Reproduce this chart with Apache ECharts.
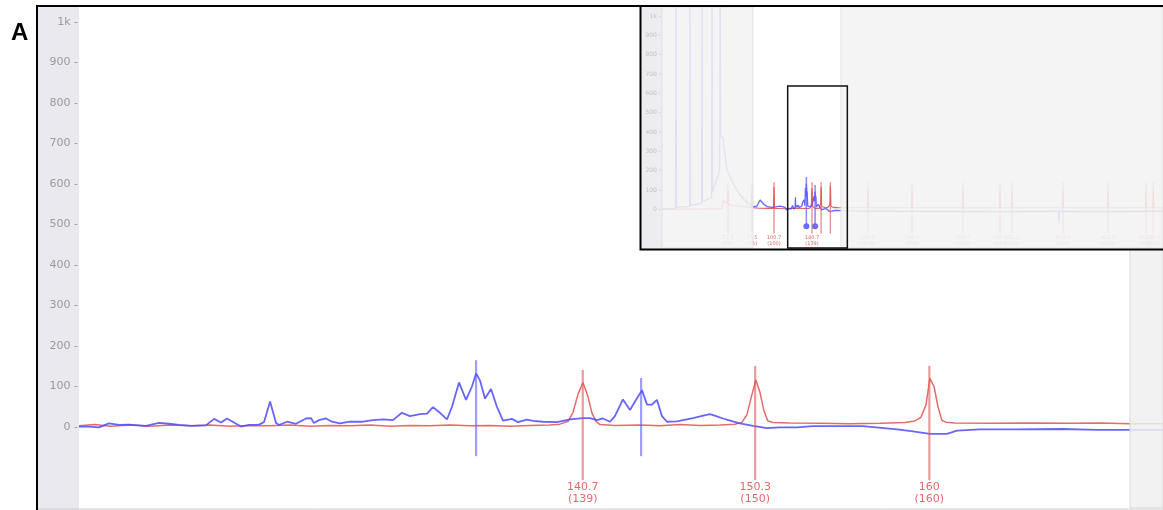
<!DOCTYPE html>
<html><head><meta charset="utf-8">
<script src="https://cdn.jsdelivr.net/npm/echarts/dist/echarts.min.js"></script>
<style>html,body{margin:0;padding:0;background:#fff}#c{width:1163px;height:510px}</style>
</head><body><div id="c"></div>
<script>
// ---------- main view data (bp, RFU) ----------
const mainRange = [112.65, 173.01];
const analysisEnd = 171.17;
const yTickValues = [0, 100, 200, 300, 400, 500, 600, 700, 800, 900, 1000];
const yTickLabels = ['0', '100', '200', '300', '400', '500', '600', '700', '800', '900', '1k'];

const blueBp = [112.65,113.21,113.76,114.32,114.88,115.43,116.38,117.10,117.66,118.22,118.94,119.72,120.17,120.56,120.89,121.28,121.67,122.12,122.67,122.95,123.29,123.62,123.79,124.23,124.73,125.29,125.57,125.73,126.01,126.40,126.74,127.18,127.74,128.46,129.02,129.58,130.13,130.63,131.08,131.64,132.03,132.36,132.75,133.14,133.42,133.81,134.20,134.53,134.76,134.98,135.26,135.59,135.92,136.26,136.76,137.09,137.59,137.93,138.49,139.27,139.99,140.71,141.10,141.49,141.83,142.22,142.49,142.94,143.33,143.61,144.00,144.28,144.55,144.83,145.11,145.39,145.95,146.28,146.84,147.23,147.78,148.17,148.51,148.90,149.45,150.18,150.96,151.68,152.63,153.52,155.02,156.30,158.20,159.09,160.03,160.98,161.54,162.82,164.65,167.44,169.33,171.17,173.01];
const blueVal = [1,1,-1,9,5,6,3,10,8,5,3,4,20,11,21,11,1,5,6,12,63,10,5,13,8,21,22,10,17,21,13,9,13,13,17,19,17,35,27,32,33,49,35,19,50,110,67,100,132,115,70,94,50,16,20,12,18,15,13,12,19,22,22,17,21,13,27,68,42,63,91,55,55,67,27,13,14,17,22,26,32,26,21,16,9,3,-3,-1,-1,2,2,2,-6,-11,-17,-17,-9,-6,-6,-5,-7,-7,-7];

const redBp = [112.65,113.54,114.38,115.49,116.60,117.72,118.83,119.94,121.06,122.17,123.28,124.40,125.51,126.63,127.74,128.85,129.97,131.08,132.19,133.31,134.42,135.53,136.65,137.76,138.87,139.43,139.88,140.15,140.43,140.71,140.99,141.21,141.44,141.66,142.49,143.89,145.00,146.11,147.23,148.34,149.18,149.57,149.84,150.12,150.34,150.57,150.79,151.01,151.29,152.24,153.91,155.58,157.25,158.64,159.20,159.53,159.81,160.03,160.26,160.48,160.70,160.93,161.43,163.37,165.60,167.83,169.50,171.17,173.01];
const redVal = [3,6,2,5,2,5,3,5,2,4,3,5,2,4,3,5,2,4,3,5,3,4,2,4,5,7,14,35,80,110,75,35,14,6,4,5,3,6,4,5,7,12,30,80,116,85,40,15,11,10,9,8,9,11,15,24,54,120,100,50,16,12,10,9,10,9,10,8,8];

const redMarkerBp = [140.7, 150.3, 160];
const redMarkerTop = [141, 151, 151];
const redMarkerBottom = [-131, -131, -131];
const redMarkerText = ['140.7', '150.3', '160'];
const redMarkerSize = ['(139)', '(150)', '(160)'];
const blueMarkerBp = [134.76, 143.95];
const blueMarkerTop = [165, 121];
const blueMarkerBottom = [-72, -72];

// ---------- overview (inset) data ----------
const insetRange = [-17.2, 510.2];
const insetWhiteStart = 78.6;
const insetBox = [115.1, 177.9, 638];
const ovBlueLeftBp = [-17.2,-11,-3,-2.5,-2,12,12.3,12.8,24.5,24.9,25.4,35,35.5,36,43.5,44,44.5,47,51.2,57.6,65,72.3,78.6,82.8,86,88.1,90.2,93.4,99.7,107,112.3];
const ovBlueLeftVal = [2,4,5,1500,10,15,1500,20,30,1500,40,60,1500,90,200,1500,380,370,203,135,73,37,14,17,48,57,25,14,10,17,10];
const ovBlueRightBp = [180.7,233.3,338.6,396.5,400.2,400.7,401.2,443.9,510.2];
const ovBlueRightVal = [-8,-10,-12,-10,-10,-70,-10,-12,-10];
const ovRedLeftBp = [-17.2,10,40,46,47.5,51.5,52.3,53,58,65,72,76.8,77.5,78.2,85,95,100.1,100.7,101.3,107,112.3];
const ovRedLeftVal = [0,1,2,5,45,30,100,25,20,16,12,10,100,9,6,5,5,115,5,4,3];
const ovRedRightBp = [180,199.0,199.6,200.2,245.4,246.0,246.6,299.0,299.6,300.2,338.0,338.6,339.2,350.6,351.2,351.8,404.3,404.9,405.5,451.7,452.3,452.9,491.7,492.3,492.9,499.4,500.0,500.6,510.2];
const ovRedRightVal = [8,8,100,8,8,100,8,8,100,8,8,100,8,8,100,8,8,100,8,8,100,8,8,100,8,8,100,8,8];

const insetRedBp = [52.3, 77.5, 100.7, 140.7, 150.3, 160, 199.6, 246.0, 299.6, 338.6, 351.2, 404.9, 452.3, 492.3, 500.0];
const insetRedText = ['52.3','77.5','100.7','140.7','','','199.6','246.0','299.6','338.6','351.2','404.9','452.3','492.3','500.0'];
const insetRedSize = ['(50)','(75)','(100)','(139)','','','(200)','(250)','(300)','(340)','(350)','(400)','(450)','(490)','(500)'];
const insetRedTop = 140, insetRedBottom = -125;
const insetBlueBp = [134.76, 143.95];
const insetBlueTop = [167, 126];
const insetBlueBottom = -88;

// ---------- build ----------
const zip = (a, b) => a.map((v, i) => [v, b[i]]);
const mainBlue = zip(blueBp, blueVal);
const mainRed = zip(redBp, redVal);
const ovBlue = zip(ovBlueLeftBp, ovBlueLeftVal).concat(mainBlue, zip(ovBlueRightBp, ovBlueRightVal));
const ovRed = zip(ovRedLeftBp, ovRedLeftVal).concat(mainRed, zip(ovRedRightBp, ovRedRightVal));

const tickFmt = v => { const i = yTickValues.indexOf(v); return i < 0 ? '' : yTickLabels[i] + ' -'; };

function markerSeries(name, gi, data, color, width, texts, sizes, fontSize, lh, dot, z) {
  return {
    type: 'custom', name, xAxisIndex: gi, yAxisIndex: gi, z, clip: false, silent: true,
    data,
    renderItem: (params, api) => {
      const i = params.dataIndex;
      const x = api.value(0);
      const p1 = api.coord([x, api.value(1)]);
      const p2 = api.coord([x, api.value(2)]);
      const ch = [{ type: 'line', shape: { x1: p1[0], y1: p1[1], x2: p2[0], y2: p2[1] },
        style: { stroke: color, lineWidth: width } }];
      if (texts && texts[i]) {
        ch.push({ type: 'text', x: p2[0], y: p2[1] + 1,
          style: { text: texts[i] + '\n' + sizes[i], fill: '#e06a6a', fontSize, fontFamily: 'DejaVu Sans',
            lineHeight: lh, align: 'center', verticalAlign: 'top' } });
      }
      if (dot) ch.push({ type: 'circle', shape: { cx: p2[0], cy: p2[1], r: 3 }, style: { fill: '#6b6bff' } });
      return { type: 'group', children: ch };
    }
  };
}

const chart = echarts.init(document.getElementById('c'), null, { renderer: 'canvas' });
chart.setOption({
  animation: false,
  backgroundColor: '#fff',
  title: { text: 'A', left: 11, top: 21, padding: 0,
    textStyle: { fontSize: 24, fontWeight: 'bold', fontFamily: 'Liberation Sans', color: '#000' } },
  grid: [
    { left: 79, top: 7, right: 0, height: 501, outerBoundsMode: 'none', containLabel: false },
    { left: 662, top: 7, right: 0, height: 241, outerBoundsMode: 'none', containLabel: false }
  ],
  xAxis: [
    { type: 'value', gridIndex: 0, min: mainRange[0], max: mainRange[1], show: false },
    { type: 'value', gridIndex: 1, min: insetRange[0], max: insetRange[1], show: false }
  ],
  yAxis: [
    { type: 'value', gridIndex: 0, min: -200, max: 1037, interval: 100,
      axisLine: { show: false }, axisTick: { show: false }, splitLine: { show: false },
      axisLabel: { formatter: tickFmt, margin: 1, fontSize: 11, color: '#9a9a9a', fontFamily: 'DejaVu Sans' } },
    { type: 'value', gridIndex: 1, min: -200, max: 1046.6, interval: 100, z: 27,
      axisLine: { show: false }, axisTick: { show: false }, splitLine: { show: false },
      axisLabel: { formatter: tickFmt, margin: 1, fontSize: 6, color: '#c2c2c2', fontFamily: 'DejaVu Sans' } }
  ],
  graphic: { elements: [
    { type: 'rect', z: 0, shape: { x: 38, y: 7, width: 41, height: 510 }, style: { fill: '#e9e9ef' } },
    { type: 'line', z: 1, shape: { x1: 38, y1: 509, x2: 1163, y2: 509 }, style: { stroke: '#cfcfcf', lineWidth: 1 } },
    { type: 'rect', z: 100, shape: { x: 37, y: 6, width: 1140, height: 530 }, style: { fill: 'none', stroke: '#000', lineWidth: 2 } },
    { type: 'rect', z: 20, shape: { x: 640, y: 6, width: 530, height: 244 }, style: { fill: '#fff' } },
    { type: 'rect', z: 21, shape: { x: 641, y: 7, width: 21, height: 242 }, style: { fill: '#ededf1' } },
    { type: 'rect', z: 101, shape: { x: 640.5, y: 6, width: 530, height: 243.5 }, style: { fill: 'none', stroke: '#000', lineWidth: 2 } }
  ] },
  series: [
    { type: 'line', name: 'red', xAxisIndex: 0, yAxisIndex: 0, data: mainRed, z: 2, symbol: 'none', silent: true,
      lineStyle: { color: 'rgba(222,70,70,0.8)', width: 1.5 } },
    { type: 'line', name: 'blue', xAxisIndex: 0, yAxisIndex: 0, data: mainBlue, z: 3, symbol: 'none', silent: true,
      lineStyle: { color: 'rgba(75,75,255,0.85)', width: 1.8 } },
    markerSeries('redMarkers', 0, redMarkerBp.map((b, i) => [b, redMarkerTop[i], redMarkerBottom[i]]),
      'rgba(225,85,85,0.6)', 2.2, redMarkerText, redMarkerSize, 11, 12, false, 4),
    markerSeries('blueMarkers', 0, blueMarkerBp.map((b, i) => [b, blueMarkerTop[i], blueMarkerBottom[i]]),
      'rgba(95,95,255,0.6)', 2.2, null, null, 11, 12, false, 4),
    { type: 'line', name: 'mainShade', xAxisIndex: 0, yAxisIndex: 0, data: [], z: 5, silent: true,
      markArea: { z: 5, silent: true, itemStyle: { color: 'rgba(240,240,240,0.85)', borderColor: '#d9d9d9', borderWidth: 1 },
        data: [[{ xAxis: analysisEnd }, { xAxis: mainRange[1] }]] } },
    // inset
    { type: 'line', name: 'ovRed', xAxisIndex: 1, yAxisIndex: 1, data: ovRed, z: 22, symbol: 'none', silent: true,
      lineStyle: { color: 'rgba(222,70,70,0.85)', width: 1.1 } },
    { type: 'line', name: 'ovBlue', xAxisIndex: 1, yAxisIndex: 1, data: ovBlue, z: 23, symbol: 'none', silent: true,
      lineStyle: { color: 'rgba(75,75,255,0.85)', width: 1.3 } },
    markerSeries('ovRedMarkers', 1, insetRedBp.map(b => [b, insetRedTop, insetRedBottom]),
      'rgba(225,85,85,0.7)', 1.3, insetRedText, insetRedSize, 5, 6, false, 24),
    markerSeries('ovBlueMarkers', 1, insetBlueBp.map((b, i) => [b, insetBlueTop[i], insetBlueBottom]),
      'rgba(95,95,255,0.75)', 1.5, null, null, 5, 6, true, 24),
    { type: 'line', name: 'ovShade', xAxisIndex: 1, yAxisIndex: 1, data: [], z: 25, silent: true,
      markArea: { z: 25, silent: true, itemStyle: { color: 'rgba(242,242,242,0.88)', borderColor: '#dcdcdc', borderWidth: 0.8 },
        data: [[{ xAxis: insetRange[0] }, { xAxis: insetWhiteStart }], [{ xAxis: analysisEnd }, { xAxis: insetRange[1] }]] } },
    { type: 'line', name: 'ovBox', xAxisIndex: 1, yAxisIndex: 1, data: [], z: 26, silent: true,
      markArea: { z: 26, silent: true, itemStyle: { color: 'rgba(0,0,0,0)', borderColor: '#111', borderWidth: 1.5 },
        data: [[{ xAxis: insetBox[0], yAxis: insetBox[2] }, { xAxis: insetBox[1], yAxis: -200 }]] } }
  ]
});
</script></body></html>
